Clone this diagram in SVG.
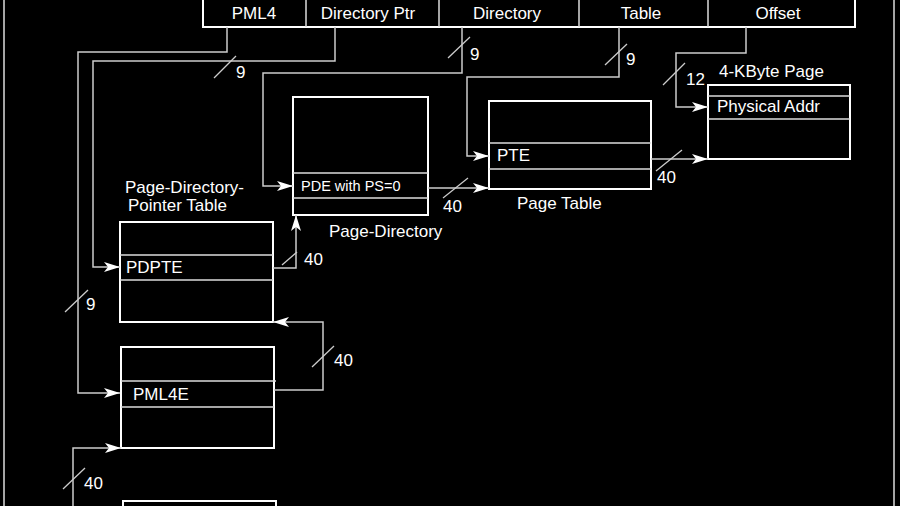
<svg xmlns="http://www.w3.org/2000/svg" width="900" height="506" viewBox="0 0 900 506">
<style>
.b{fill:none;stroke:#fff;stroke-width:2}
.d{stroke:#ddd;stroke-width:1.5}
.c{fill:none;stroke:#ccc;stroke-width:1.5}
.s{stroke:#ccc;stroke-width:1.3}
text{font-family:"Liberation Sans",Arial,sans-serif;font-size:17px;fill:#fff}
</style>
<defs><marker id="a" viewBox="0 0 10 10" refX="10" refY="5" markerWidth="7" markerHeight="7" orient="auto" markerUnits="userSpaceOnUse"><path d="M0,0 L10,5 L0,10 L3,5z" fill="#fff" transform="scale(1)"/></marker>
<marker id="m" viewBox="0 0 16 10" refX="16" refY="5" markerWidth="16" markerHeight="10" orient="auto" markerUnits="userSpaceOnUse"><path d="M0,0 L16,5 L0,10 L4,5z" fill="#fff"/></marker></defs>
<rect width="900" height="506" fill="#000"/>
<line x1="4" y1="0" x2="4" y2="506" class="d"/>
<line x1="894" y1="0" x2="894" y2="506" class="d"/>
<g id="fields">
<rect x="203" y="-5" width="652" height="32" class="b"/>
<line x1="306" y1="0" x2="306" y2="27" class="d"/><line x1="439" y1="0" x2="439" y2="27" class="d"/><line x1="579" y1="0" x2="579" y2="27" class="d"/><line x1="708" y1="0" x2="708" y2="27" class="d"/>
<text x="254" y="19" text-anchor="middle">PML4</text><text x="368" y="19" text-anchor="middle">Directory Ptr</text><text x="507" y="19" text-anchor="middle">Directory</text><text x="641" y="19" text-anchor="middle">Table</text><text x="778" y="19" text-anchor="middle">Offset</text>
</g>
<g id="pd"><rect x="293" y="97" width="135" height="118" class="b"/><line x1="293" y1="173" x2="428" y2="173" class="d"/><line x1="293" y1="198" x2="428" y2="198" class="d"/><text x="301" y="191" style="font-size:14.5px">PDE with PS=0</text><text x="329" y="237">Page-Directory</text></g>
<g id="pt"><rect x="489" y="101" width="162" height="88" class="b"/><line x1="489" y1="143" x2="651" y2="143" class="d"/><line x1="489" y1="169" x2="651" y2="169" class="d"/><text x="497" y="161">PTE</text><text x="517" y="209">Page Table</text></g>
<g id="page"><rect x="708" y="85" width="142" height="74" class="b"/><line x1="708" y1="96" x2="850" y2="96" class="d"/><line x1="708" y1="119" x2="850" y2="119" class="d"/><text x="717" y="112">Physical Addr</text><text x="719" y="77">4-KByte Page</text></g>
<g id="pdpt"><rect x="120" y="222" width="153" height="100" class="b"/><line x1="120" y1="255" x2="273" y2="255" class="d"/><line x1="120" y1="280" x2="273" y2="280" class="d"/><text x="126" y="273">PDPTE</text><text x="125" y="193">Page-Directory-</text><text x="128" y="211">Pointer Table</text></g>
<g id="pml4"><rect x="121" y="347" width="153" height="101" class="b"/><line x1="121" y1="381" x2="276" y2="381" class="d"/><line x1="121" y1="407" x2="274" y2="407" class="d"/><text x="133" y="400">PML4E</text></g>
<g id="cr3"><rect x="123" y="501" width="153" height="20" class="b"/></g>
<g id="connectors">
<path d="M227 27V52H78V393H120" class="c" marker-end="url(#m)"/>
<path d="M335 27V61H93V267H120" class="c" marker-end="url(#m)"/>
<path d="M462 27V73H263V186H293" class="c" marker-end="url(#m)"/>
<path d="M619 27V77H467V156H489" class="c" marker-end="url(#m)"/>
<path d="M746 27V53H676V107H708" class="c" marker-end="url(#m)"/>
<path d="M428 188H489" class="c" marker-end="url(#m)"/>
<path d="M651 159H708" class="c" marker-end="url(#m)"/>
<path d="M273 268H296V215" class="c" marker-end="url(#m)"/>
<path d="M274 390H323V322H273" class="c" marker-end="url(#m)"/>
<path d="M73 506V448H121" class="c" marker-end="url(#m)"/>
<g class="s"><line x1="65" y1="312" x2="88" y2="290"/><line x1="214" y1="78" x2="236" y2="56"/><line x1="448" y1="58" x2="470" y2="37"/><line x1="605" y1="65" x2="627" y2="44"/><line x1="663" y1="85" x2="685" y2="63"/><line x1="443" y1="198" x2="468" y2="178"/><line x1="656" y1="171" x2="682" y2="150"/><line x1="282" y1="265" x2="297" y2="252"/><line x1="312" y1="367" x2="334" y2="346"/><line x1="63" y1="489" x2="85" y2="468"/></g>
<text x="86" y="310">9</text><text x="236" y="78">9</text><text x="470" y="60">9</text><text x="626" y="65">9</text><text x="686" y="85">12</text><text x="443" y="212">40</text><text x="657" y="183">40</text><text x="304" y="265">40</text><text x="334" y="366">40</text><text x="84" y="489">40</text>
</g>
</svg>
